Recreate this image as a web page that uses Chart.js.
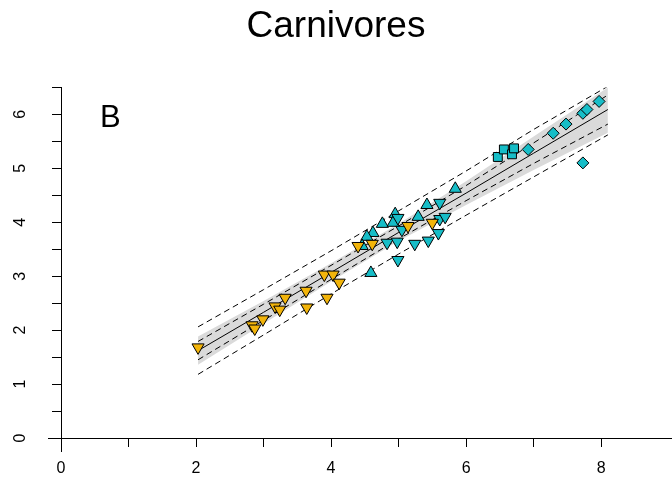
<!DOCTYPE html>
<html>
<head>
<meta charset="utf-8">
<script src="https://cdn.jsdelivr.net/npm/chart.js@4.4.0/dist/chart.umd.min.js"></script>
<style>
    html, body { margin: 0; padding: 0; background: #fff; }
</style>
</head>
<body>
<canvas id="chart" width="672" height="482"></canvas>
<script>
// DONNÉES
const titleText = 'Carnivores';
const panelLabel = 'B';
const panelPos = [0.73, 5.93];

const xTicks = [0, 1, 2, 3, 4, 5, 6, 7, 8];
const yTicks = [0, 0.5, 1, 1.5, 2, 2.5, 3, 3.5, 4, 4.5, 5, 5.5, 6, 6.5];

// droite de régression et bandes
const bandX      = [2.03, 3,    4,    5,    6,    7,    8.1];
const fitY       = [1.62, 2.33, 3.07, 3.81, 4.54, 5.28, 6.09];
const grayUpper  = [1.88, 2.54, 3.24, 3.97, 4.76, 5.59, 6.50];
const grayLower  = [1.36, 2.12, 2.90, 3.65, 4.32, 4.97, 5.66];
const innerUpper = [1.79, 2.48, 3.20, 3.93, 4.68, 5.47, 6.36];
const innerLower = [1.45, 2.18, 2.94, 3.69, 4.40, 5.09, 5.82];
const outerUpper = [2.06, 2.75, 3.47, 4.21, 4.95, 5.72, 6.52];
const outerLower = [1.18, 1.91, 2.67, 3.41, 4.13, 4.84, 5.62];

// points
const yellowDownX = [2.03, 2.83, 2.87, 2.99, 3.17, 3.24, 3.32, 3.63, 3.64, 3.94, 3.90, 4.03, 4.12, 4.40, 4.61, 5.14, 5.50];
const yellowDownY = [1.68, 2.09, 2.03, 2.20, 2.44, 2.38, 2.60, 2.73, 2.42, 2.60, 3.03, 3.03, 2.88, 3.56, 3.60, 3.93, 3.99];
const cyanDownX = [4.99, 5.61, 5.05, 5.61, 5.69, 5.59, 4.83, 4.98, 5.24, 5.44, 4.99];
const cyanDownY = [4.08, 4.36, 3.86, 4.06, 4.10, 3.80, 3.62, 3.64, 3.60, 3.66, 3.30];
const cyanUpX = [5.84, 5.42, 4.95, 4.76, 4.92, 5.29, 4.62, 4.53, 4.46, 4.59];
const cyanUpY = [4.62, 4.32, 4.15, 3.97, 3.99, 4.10, 3.80, 3.73, 3.56, 3.06];
const squareX = [6.47, 6.56, 6.68, 6.71];
const squareY = [5.21, 5.35, 5.26, 5.37];
const diamondX = [6.92, 7.29, 7.48, 7.73, 7.79, 7.97, 7.73];
const diamondY = [5.35, 5.65, 5.82, 6.02, 6.09, 6.24, 5.10];

const yellow = '#F2B40A';
const cyan = '#17BDC7';



// OUTILS
function pts(xs, ys) {
    return xs.map((v, i) => ({ x: v, y: ys[i] }));
}

function markers(xs, ys, color, style, radius, rotation) {
    return {
        data: pts(xs, ys),
        pointStyle: style,
        pointRadius: radius,
        rotation: rotation,
        backgroundColor: color,
        borderColor: '#000',
        borderWidth: 1,
        showLine: false
    };
}

function curve(ys, dash) {
    return {
        data: pts(bandX, ys),
        showLine: true,
        pointRadius: 0,
        borderColor: '#000',
        borderWidth: 1,
        borderDash: dash,
        fill: false,
        tension: 0
    };
}



// PETIT PLUGIN : prolongement des axes et lettre du panneau
const extras = {
    id: 'extras',
    afterDraw(chart) {
        const { ctx, scales: { x, y } } = chart;
        const x0 = x.getPixelForValue(0), y0 = y.getPixelForValue(0);
        ctx.save();
        ctx.strokeStyle = '#000';
        ctx.lineWidth = 1;
        ctx.beginPath();
        ctx.moveTo(Math.round(x.getPixelForValue(-0.19)), Math.round(y0) + 0.5);
        ctx.lineTo(Math.round(x0), Math.round(y0) + 0.5);
        ctx.moveTo(Math.round(x0) + 0.5, Math.round(y0));
        ctx.lineTo(Math.round(x0) + 0.5, Math.round(y.getPixelForValue(-0.26)));
        ctx.stroke();

        ctx.font = '31px "Liberation Sans", Arial, sans-serif';
        ctx.fillStyle = '#000';
        ctx.textAlign = 'center';
        ctx.textBaseline = 'middle';
        ctx.fillText(panelLabel, x.getPixelForValue(panelPos[0]), y.getPixelForValue(panelPos[1]));
        ctx.restore();
    }
};



// GRAPHIQUE
const tickFont = { family: '"Liberation Sans", Arial, sans-serif', size: 16 };

new Chart(document.getElementById('chart').getContext('2d'), {
    type: 'scatter',
    data: {
        datasets: [
            markers(yellowDownX, yellowDownY, yellow, 'triangle', 7, 180),
            markers(cyanDownX, cyanDownY, cyan, 'triangle', 7, 180),
            markers(cyanUpX, cyanUpY, cyan, 'triangle', 7, 0),
            markers(squareX, squareY, cyan, 'rect', 6.3, 0),
            markers(diamondX, diamondY, cyan, 'rectRot', 6, 0),
            curve(fitY, []),
            curve(innerUpper, [6, 4]),
            curve(innerLower, [6, 4]),
            curve(outerUpper, [6, 4]),
            curve(outerLower, [6, 4]),
            Object.assign(curve(grayUpper, []), { borderWidth: 0, fill: '+1', backgroundColor: '#dadada' }),
            Object.assign(curve(grayLower, []), { borderWidth: 0 })
        ]
    },
    options: {
        responsive: false,
        animation: false,
        layout: { padding: 0, autoPadding: false },
        plugins: {
            legend: { display: false },
            tooltip: { enabled: false },
            title: {
                display: true,
                text: titleText,
                color: '#000',
                font: { family: '"Liberation Sans", Arial, sans-serif', size: 37, weight: 'normal' },
                padding: { top: 5, bottom: 38 }
            }
        },
        scales: {
            x: {
                type: 'linear',
                min: 0,
                max: 9.05,
                afterBuildTicks: s => { s.ticks = xTicks.map(v => ({ value: v })); },
                afterFit: s => { s.height = 44; s.paddingRight = 0; s.paddingLeft = 0; },
                border: { display: true, color: '#000', width: 1 },
                grid: { drawOnChartArea: false, drawTicks: true, tickLength: 9, color: '#000' },
                ticks: {
                    color: '#000',
                    font: tickFont,
                    padding: 12,
                    maxRotation: 0,
                    callback: v => (v % 2 === 0 ? v : '')
                }
            },
            y: {
                type: 'linear',
                min: 0,
                max: 6.5,
                afterBuildTicks: s => { s.ticks = yTicks.map(v => ({ value: v })); },
                afterFit: s => { s.width = 61; s.paddingTop = 0; s.paddingBottom = 0; },
                border: { display: true, color: '#000', width: 1 },
                grid: { drawOnChartArea: false, drawTicks: true, tickLength: 9, color: '#000' },
                ticks: {
                    color: '#000',
                    font: tickFont,
                    padding: 27,
                    minRotation: 90,
                    maxRotation: 90,
                    crossAlign: 'center',
                    callback: v => (Number.isInteger(v) ? v : '')
                }
            }
        }
    },
    plugins: [extras]
});
</script>
</body>
</html>
